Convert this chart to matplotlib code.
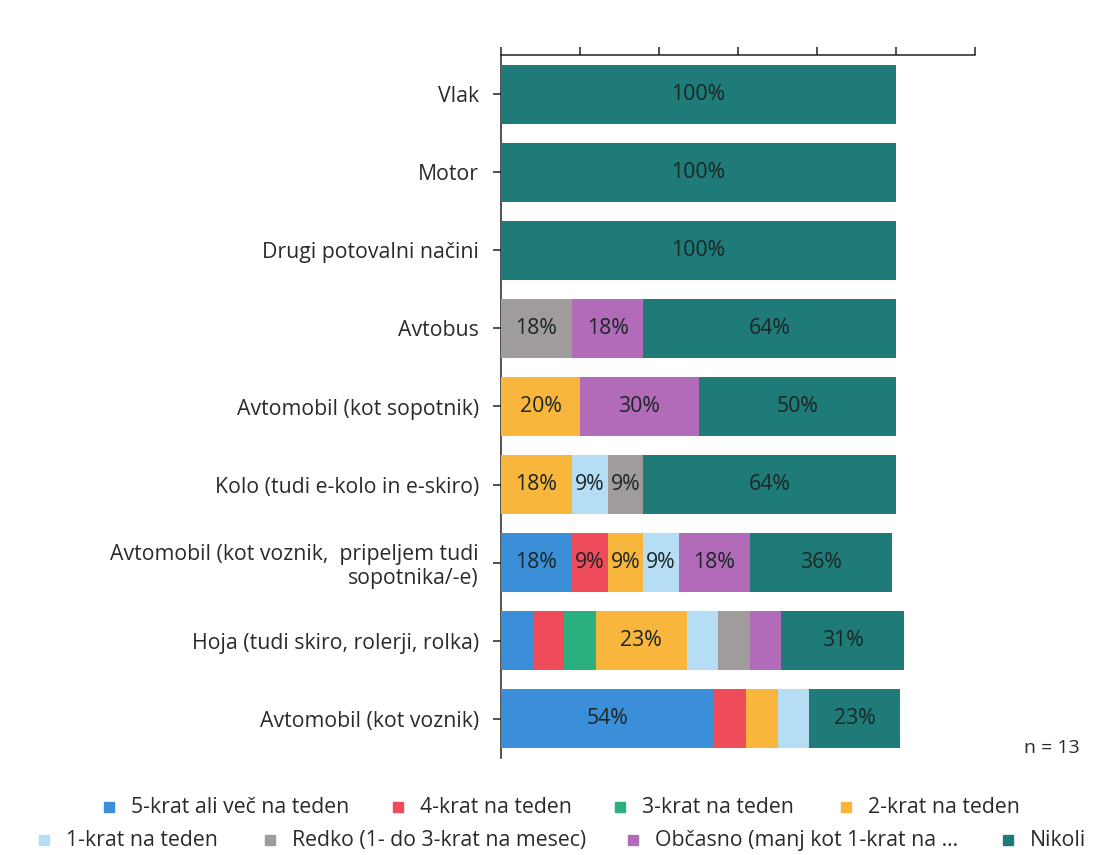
import matplotlib
matplotlib.use("Agg")
import matplotlib.pyplot as plt
from matplotlib.patches import Rectangle
import numpy as np

plt.rcParams['font.family'] = ['Open Sans', 'DejaVu Sans']

categories = ["Vlak", "Motor", "Drugi potovalni načini", "Avtobus",
              "Avtomobil (kot sopotnik)", "Kolo (tudi e-kolo in e-skiro)",
              "Avtomobil (kot voznik,  pripeljem tudi\nsopotnika/-e)",
              "Hoja (tudi skiro, rolerji, rolka)", "Avtomobil (kot voznik)"]

series_names = ["5-krat ali več na teden", "4-krat na teden", "3-krat na teden",
                "2-krat na teden", "1-krat na teden", "Redko (1- do 3-krat na mesec)",
                "Občasno (manj kot 1-krat na ...", "Nikoli"]

v_5krat   = [0, 0, 0, 0, 0, 0, 18, 8, 54]
v_4krat   = [0, 0, 0, 0, 0, 0, 9, 8, 8]
v_3krat   = [0, 0, 0, 0, 0, 0, 0, 8, 0]
v_2krat   = [0, 0, 0, 0, 20, 18, 9, 23, 8]
v_1krat   = [0, 0, 0, 0, 0, 9, 9, 8, 8]
v_redko   = [0, 0, 0, 18, 0, 9, 0, 8, 0]
v_obcasno = [0, 0, 0, 18, 30, 0, 18, 8, 0]
v_nikoli  = [100, 100, 100, 64, 50, 64, 36, 31, 23]

colors = ["#3b8fd8", "#ee4c5a", "#2ab07f", "#f8b63c",
          "#b5def5", "#a09c9c", "#b26bb8", "#1e7b77"]

n_text = "n = 13"

all_vals = [v_5krat, v_4krat, v_3krat, v_2krat, v_1krat, v_redko, v_obcasno, v_nikoli]

W, H = 1094, 855
fig = plt.figure(figsize=(W / 100, H / 100), dpi=100)
ax = fig.add_axes([501 / W, 1 - 758 / H, (975 - 501) / W, (758 - 55) / H])

FS = 15.3
y = np.arange(len(categories))
left = np.zeros(len(categories))
text_color = "#1c2626"
for vals, col, name in zip(all_vals, colors, series_names):
    vals = np.array(vals, dtype=float)
    bars = ax.barh(y, vals, left=left, height=0.755, color=col, zorder=3, label=name)
    for b, v in zip(bars, vals):
        if v >= 9:
            ax.text(b.get_x() + b.get_width() / 2, b.get_y() + b.get_height() / 2,
                    f"{int(v)}%", ha="center", va="center", fontsize=FS,
                    color=text_color, zorder=4)
    left += vals

ax.set_xlim(0, 120)
ax.set_ylim(len(categories) - 0.5, -0.5)
ax.set_xticks(np.arange(0, 121, 20))
ax.xaxis.tick_top()
ax.tick_params(axis="x", which="both", direction="out", length=6, width=1.1,
               color="#222222", labeltop=False, labelbottom=False)
ax.set_yticks(y)
ax.set_yticklabels(categories, fontsize=FS, color="#2a2a2a", linespacing=1.2)
ax.tick_params(axis="y", direction="out", length=6, width=1.1, color="#222222", pad=10)
for s in ["right", "bottom"]:
    ax.spines[s].set_visible(False)
for s in ["top", "left"]:
    ax.spines[s].set_color("#222222")
    ax.spines[s].set_linewidth(1.1)
    ax.spines[s].set_zorder(1)

fig.text(1080 / W, 1 - 748 / H, n_text, ha="right", va="center", fontsize=14,
         color="#2a2a2a")

# legend (manual layout, two rows)
leg_marker_x = [109, 398, 620, 846, 44, 270, 633, 1008]
leg_row_y = [807, 807, 807, 807, 840, 840, 840, 840]
ms = 10
for name, col, mx, my in zip(series_names, colors, leg_marker_x, leg_row_y):
    fig.patches.append(Rectangle(((mx - ms / 2) / W, 1 - (my + ms / 2) / H), ms / W, ms / H,
                                 transform=fig.transFigure, color=col, figure=fig))
    fig.text((mx + 22) / W, 1 - my / H, name, ha="left", va="center", fontsize=FS,
             color="#2a2a2a")

fig.savefig("out.png", dpi=100)
